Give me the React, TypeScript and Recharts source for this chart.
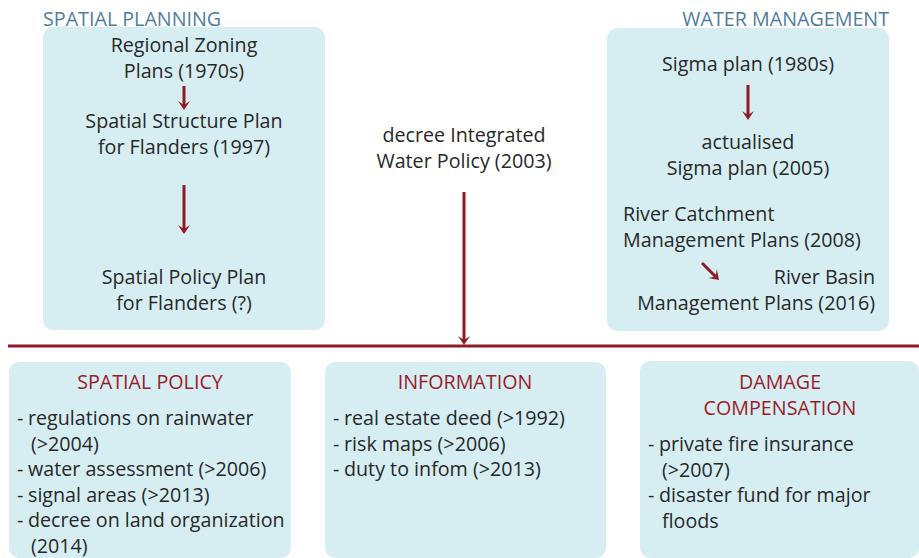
import { ScatterChart, XAxis, YAxis, Scatter, ReferenceArea, ReferenceLine } from "recharts";

const W = 919;
const H = 558;
const FONT = "'Open Sans', Lato, sans-serif";
const FONT_SIZE = 19.7;
const LINE = 25.6;
const DARK = "#282828";
const RED = "#9a1b29";
const BLUE = "#4f7d9f";
const BOX = "#d6eef2";
const ARROW = "#8e1b25";

// diagram units: 1 unit = 1 px of the original figure, y grows downward
const panels = [
  { id: "planning", x1: 43, x2: 325, y1: 27, y2: 330 },
  { id: "water", x1: 607, x2: 889, y1: 28, y2: 331 },
  { id: "policy", x1: 9, x2: 291, y1: 362, y2: 558 },
  { id: "info", x1: 325, x2: 606, y1: 362, y2: 558 },
  { id: "damage", x1: 640, x2: 919, y1: 361, y2: 558 },
];

const blockText = [
  ["SPATIAL PLANNING"],
  ["WATER MANAGEMENT"],
  ["Regional Zoning", "Plans (1970s)"],
  ["Spatial Structure Plan", "for Flanders (1997)"],
  ["Spatial Policy Plan", "for Flanders (?)"],
  ["decree Integrated", "Water Policy (2003)"],
  ["Sigma plan (1980s)"],
  ["actualised", "Sigma plan (2005)"],
  ["River Catchment", "Management Plans (2008)"],
  ["River Basin", "Management Plans (2016)"],
  ["SPATIAL POLICY"],
  ["INFORMATION"],
  ["DAMAGE", "COMPENSATION"],
];
const blockAnchor = [
  { x: 43, y: 26, anchor: "start", color: BLUE },
  { x: 889, y: 26, anchor: "end", color: BLUE },
  { x: 184, y: 52, anchor: "middle", color: DARK },
  { x: 184, y: 128, anchor: "middle", color: DARK },
  { x: 184, y: 284, anchor: "middle", color: DARK },
  { x: 464, y: 142, anchor: "middle", color: DARK },
  { x: 748, y: 71, anchor: "middle", color: DARK },
  { x: 748, y: 149, anchor: "middle", color: DARK },
  { x: 623, y: 221, anchor: "start", color: DARK },
  { x: 875, y: 284, anchor: "end", color: DARK },
  { x: 150, y: 389, anchor: "middle", color: RED },
  { x: 465, y: 389, anchor: "middle", color: RED },
  { x: 780, y: 389, anchor: "middle", color: RED },
];
const blocks = blockText.map((lines, i) => ({ ...blockAnchor[i], lines }));

const policyItems = [
  ["regulations on rainwater", "(>2004)"],
  ["water assessment (>2006)"],
  ["signal areas (>2013)"],
  ["decree on land organization", "(2014)"],
];
const infoItems = [["real estate deed (>1992)"], ["risk maps (>2006)"], ["duty to infom (>2013)"]];
const damageItems = [["private fire insurance", "(>2007)"], ["disaster fund for major", "floods"]];
const lists = [
  { x: 17, y: 425, items: policyItems },
  { x: 333, y: 425, items: infoItems },
  { x: 648, y: 451, items: damageItems },
];

const arrows = [
  { from: { x: 184, y: 86 }, to: { x: 184, y: 110 } },
  { from: { x: 184, y: 185 }, to: { x: 184, y: 234 } },
  { from: { x: 748, y: 85 }, to: { x: 748, y: 120 } },
  { from: { x: 702, y: 263 }, to: { x: 719, y: 280 } },
  { from: { x: 464, y: 192 }, to: { x: 464, y: 345 } },
];
const divider = [{ x: 8, y: 346 }, { x: W, y: 346 }];

const TextBlock = (props: any) => {
  const { cx, cy, payload } = props;
  return (
    <text x={cx} y={cy} textAnchor={payload.anchor} fill={payload.color} fontFamily={FONT} fontSize={FONT_SIZE}>
      {payload.lines.map((l: string, i: number) => (
        <tspan key={i} x={cx} y={cy + i * 25.5}>
          {l}
        </tspan>
      ))}
    </text>
  );
};

const BulletList = (props: any) => {
  const { cx, cy, payload } = props;
  let row = 0;
  const out: any[] = [];
  payload.items.forEach((item: string[], i: number) => {
    out.push(
      <text key={"d" + i} x={cx} y={cy + row * LINE} fill={DARK} fontFamily={FONT} fontSize={FONT_SIZE}>
        -
      </text>
    );
    item.forEach((l, j) => {
      out.push(
        <text key={i + "-" + j} x={cx + (j === 0 ? 11 : 14)} y={cy + row * LINE} fill={DARK} fontFamily={FONT} fontSize={FONT_SIZE}>
          {l}
        </text>
      );
      row += 1;
    });
  });
  return <g>{out}</g>;
};

const Arrow = (props: any) => {
  const { x1, y1, x2, y2 } = props;
  const a = Math.atan2(y2 - y1, x2 - x1);
  const len = 9;
  const half = 6;
  const bx = x2 - Math.cos(a) * len;
  const by = y2 - Math.sin(a) * len;
  const nx = -Math.sin(a) * half;
  const ny = Math.cos(a) * half;
  const ix = x2 - Math.cos(a) * (len * 0.55);
  const iy = y2 - Math.sin(a) * (len * 0.55);
  return (
    <g>
      <line x1={x1} y1={y1} x2={ix} y2={iy} stroke={ARROW} strokeWidth={3} />
      <path d={`M${x2},${y2} L${bx + nx},${by + ny} L${ix},${iy} L${bx - nx},${by - ny} Z`} fill={ARROW} />
    </g>
  );
};

const Panel = (props: any) => (
  <rect x={props.x} y={props.y} width={props.width} height={props.height} rx={10} ry={10} fill={BOX} />
);

export default function App() {
  return (
    <div style={{ position: "absolute", left: 0, top: 0, width: W, height: H, background: "#fff" }}>
      <ScatterChart width={W} height={H} margin={{ top: 0, right: 0, bottom: 0, left: 0 }}>
        <XAxis type="number" dataKey="x" domain={[0, W]} allowDataOverflow hide />
        <YAxis type="number" dataKey="y" domain={[0, H]} allowDataOverflow reversed hide />
        {panels.map((p) => (
          <ReferenceArea key={p.id} x1={p.x1} x2={p.x2} y1={p.y1} y2={p.y2} ifOverflow="visible" shape={Panel} />
        ))}
        <ReferenceLine segment={divider} stroke={ARROW} strokeWidth={3} ifOverflow="visible" />
        {arrows.map((a, i) => (
          <ReferenceLine key={i} segment={[a.from, a.to]} ifOverflow="visible" shape={Arrow} />
        ))}
        <Scatter data={blocks} shape={TextBlock} isAnimationActive={false} />
        <Scatter data={lists} shape={BulletList} isAnimationActive={false} />
      </ScatterChart>
    </div>
  );
}
